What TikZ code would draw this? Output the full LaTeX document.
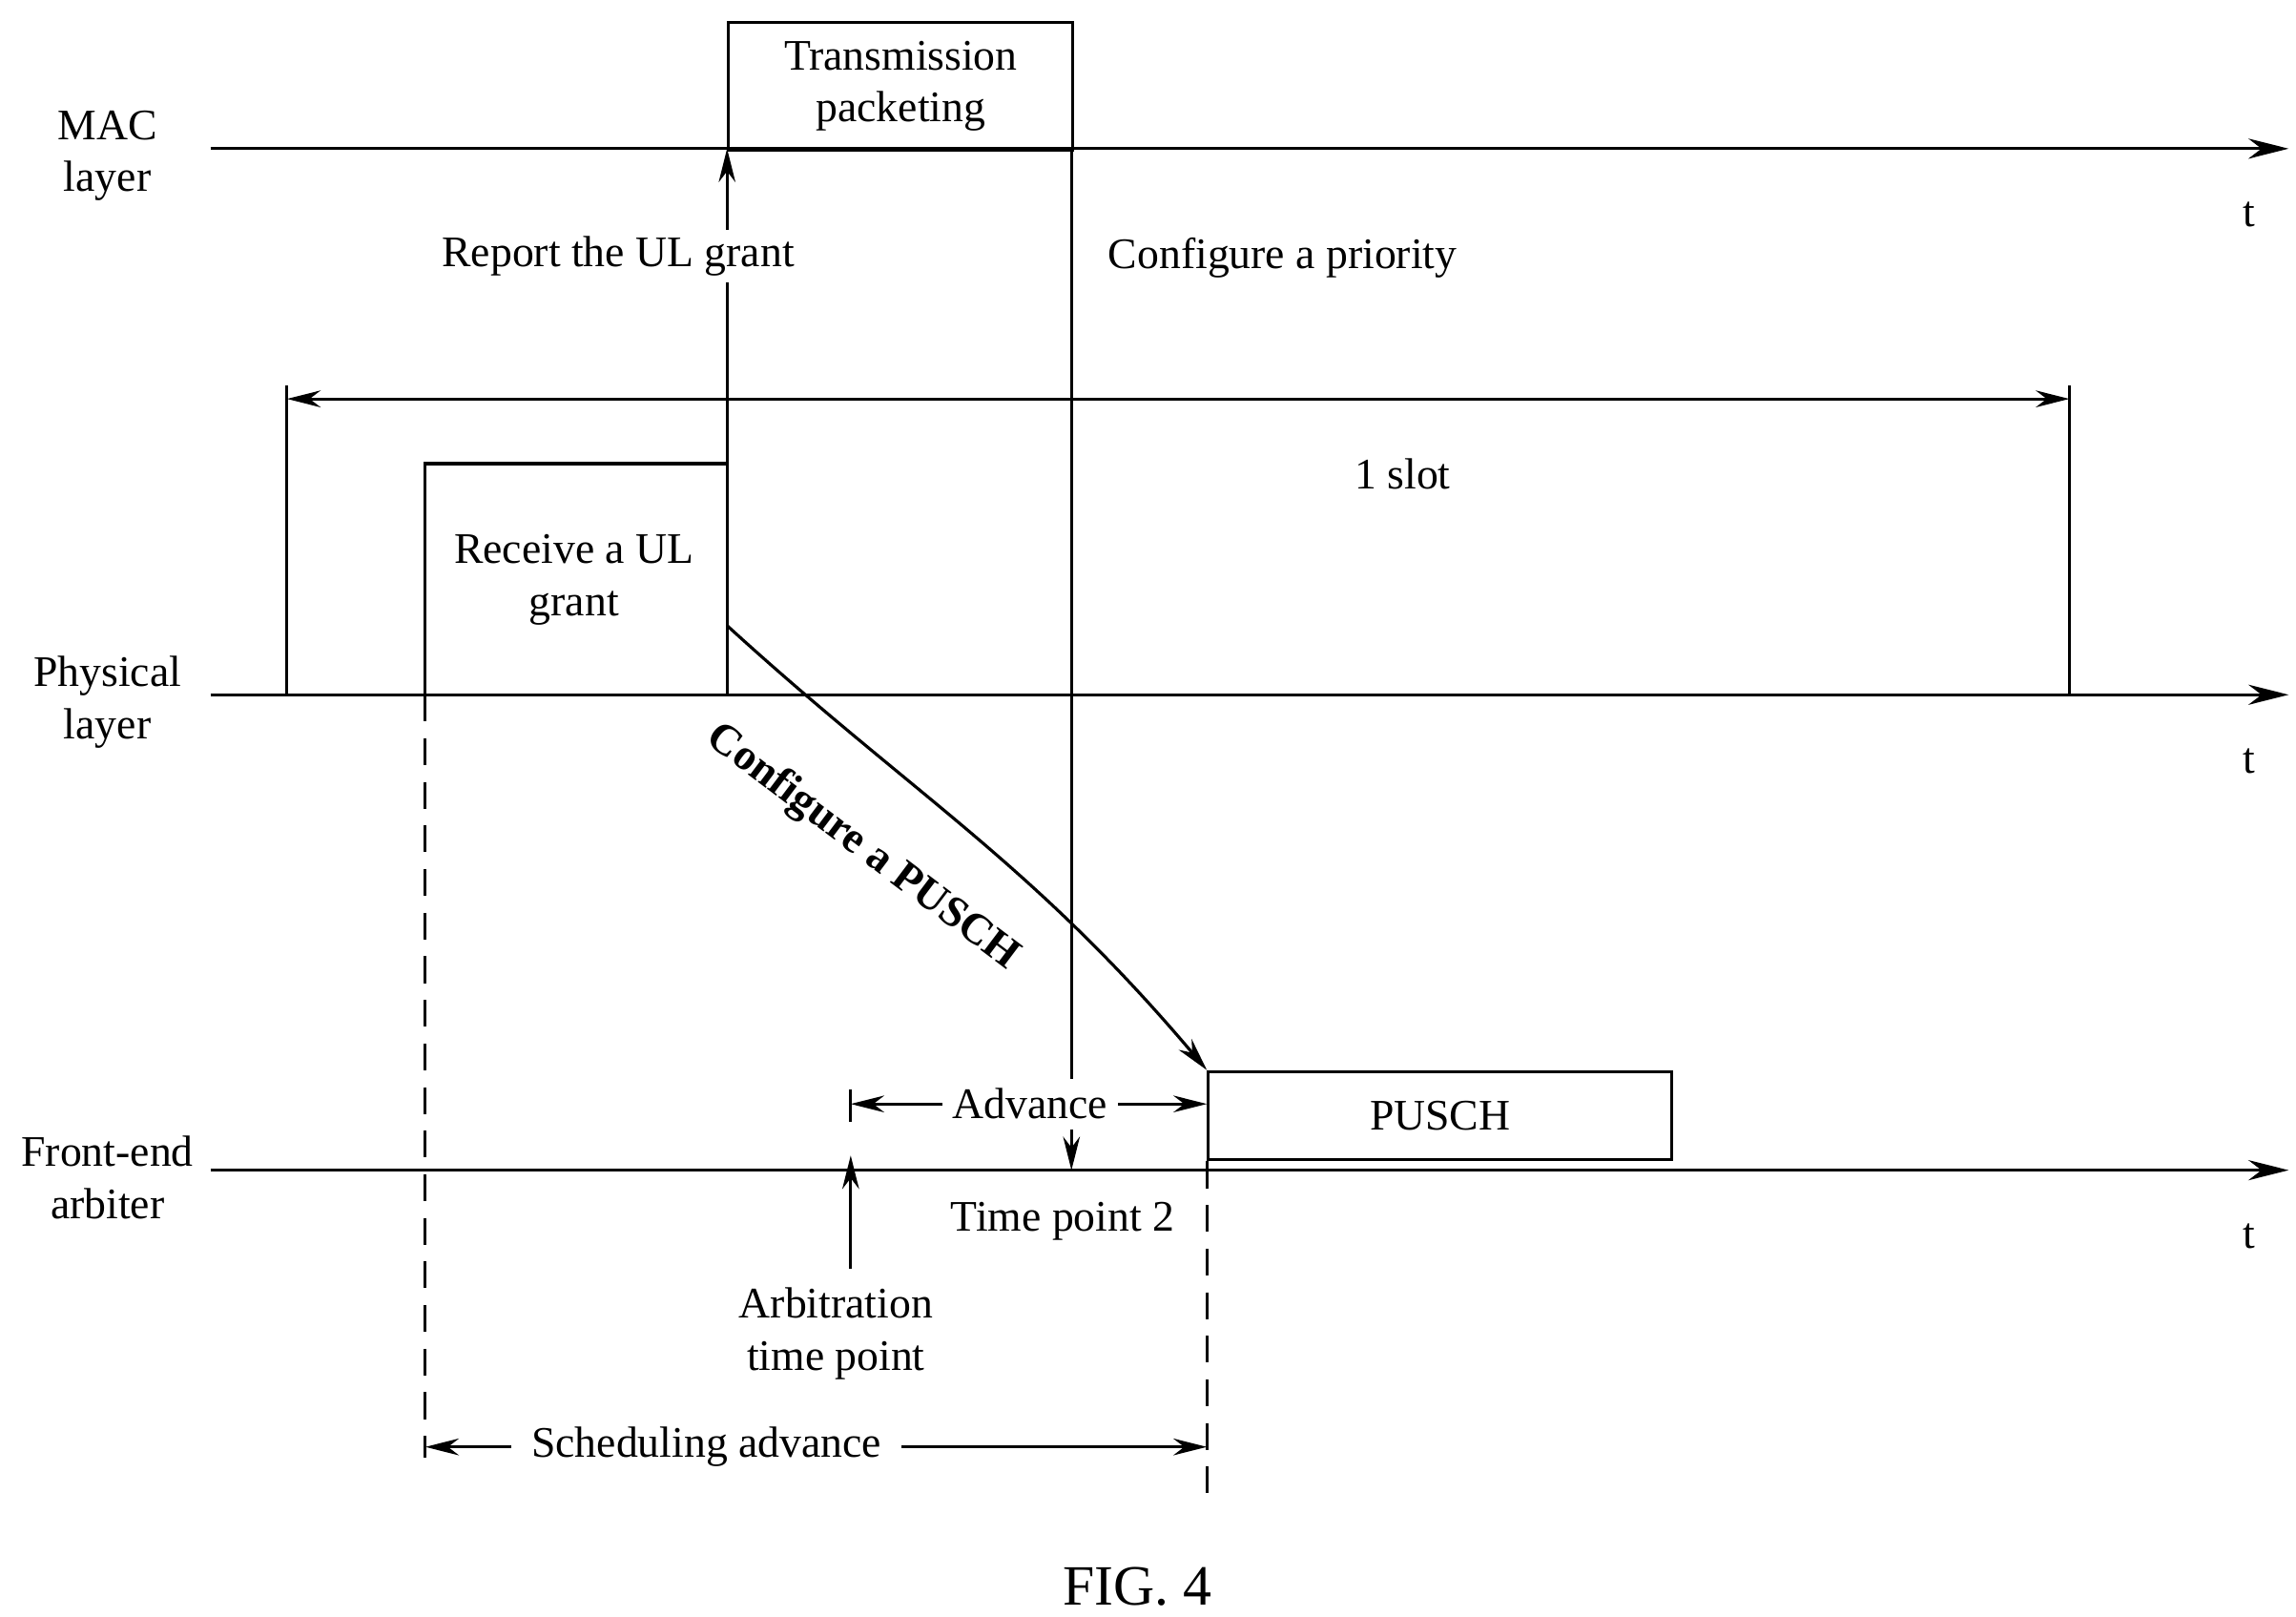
\documentclass[tikz,border=0pt]{standalone}
\usepackage{fontspec}
\setmainfont{Liberation Serif}
\usetikzlibrary{arrows.meta,positioning}
\begin{document}
\begin{tikzpicture}[x=0.01543cm,y=-0.01543cm,
        font=\fontsize{13}{15.5}\selectfont,
        axis/.style={-{Stealth[length=12pt,width=6pt]},line width=0.9pt},
        line/.style={line width=0.9pt},
        arr/.style={-{Stealth[length=10pt,width=5pt]},line width=0.9pt},
        dim/.style={{Stealth[length=10pt,width=5pt]}-{Stealth[length=10pt,width=5pt]},line width=0.9pt},
        dashln/.style={dash pattern=on 8pt off 5pt,line width=0.9pt},
        lbl/.style={align=center,inner sep=1pt}]
\useasboundingbox (0,0) rectangle (1560,1098);
% layers
\foreach \y/\name/\txt in {101/mac/MAC\\layer,472/phy/Physical\\layer,795/fea/Front-end\\arbiter}{
  \coordinate (\name-s) at (143,\y);
  \coordinate (\name-e) at (1555,\y);
  \draw[axis] (\name-s) -- (\name-e);
  \node[lbl] (\name-lbl) at (73,\y+5) {\txt};
  \node (\name-t) at (1528,\y+45) {t};
}
% MAC box
\node[draw,line width=0.9pt,minimum width=234*0.01543cm,minimum height=87*0.01543cm,anchor=north west,inner sep=0pt] (tp) at (494,14) {};
\node[lbl] at (tp.center) {Transmission\\packeting};
% receive block
\coordinate (rx-bl) at (289,472);
\coordinate (rx-tl) at (289,315);
\coordinate (rx-tr) at (494,315);
\coordinate (rx-br) at (494,472);
\draw[line] (rx-bl) -- (rx-tl) -- (rx-tr) -- (rx-br);
\node[lbl] (rx) at (390,394) {Receive a UL\\grant};
\draw[arr] (rx-tr) -- (494,101);
\node[fill=white,inner sep=2pt] (rep) at (420,174) {Report the UL grant};
% priority
\draw[arr] (728,101) -- (728,795);
\node[anchor=west] (prio) at (745,175) {Configure a priority};
% slot
\draw[line] (195,262) -- (195,472);
\draw[line] (1406,262) -- (1406,472);
\draw[dim] (195,271) -- (1406,271);
\node (slot) at (953,322) {1 slot};
% PUSCH
\node[draw,line width=0.9pt,minimum width=315*0.01543cm,minimum height=60*0.01543cm,anchor=north west,inner sep=0pt] (pusch) at (820,727) {};
\node at (pusch.center) {PUSCH};
\draw[arr] (494,425) .. controls (620,540) and (700,585) .. (pusch.north west);
\node[rotate=-37,font=\fontsize{13}{15.5}\selectfont\bfseries] (cfg) at (586,576) {Configure a PUSCH};
% dashed
\draw[dashln] (rx-bl) -- (289,990);
\draw[dashln] (pusch.south west) -- (820,1018);
% advance
\draw[line] (578,740) -- (578,762);
\draw[dim] (578,750) -- (820,750);
\node[fill=white,inner sep=3pt] (adv) at (700,750) {Advance};
\draw[arr] (578,862) -- (578,785);
\node (tp2) at (722,830) {Time point 2};
\node[lbl] (arb) at (568,906) {Arbitration\\time point};
% scheduling advance
\draw[dim] (289,983) -- (820,983);
\node[fill=white,inner sep=6pt] (sch) at (480,983) {Scheduling advance};
\node[font=\fontsize{17}{20}\selectfont] (fig) at (773,1078) {FIG. 4};
\end{tikzpicture}
\end{document}
